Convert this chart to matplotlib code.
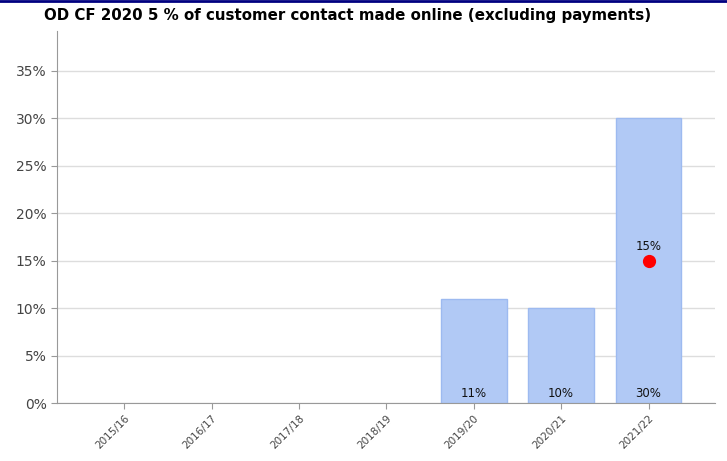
import matplotlib
matplotlib.use("Agg")
from matplotlib import pyplot as plt
from matplotlib.lines import Line2D

# dati
anni = ['2015/16', '2016/17', '2017/18', '2018/19', '2019/20', '2020/21', '2021/22']
valori = [None, None, None, None, 11, 10, 30]
target = [None, None, None, None, None, None, 15]

fig = plt.figure(figsize=(7.27, 4.61), dpi=100)
ax = fig.add_axes([0.0784, 0.1258, 0.905, 0.807])

x = list(range(len(anni)))
for i, v in enumerate(valori):
    if v is None:
        continue
    ax.bar(i, v, width=0.75, color='#b1c9f5', edgecolor='#9dbaf0', linewidth=1, zorder=2)
    ax.text(i, 0.3, '{}%'.format(v), ha='center', va='bottom', fontsize=8.5, color='#111111', zorder=4)

for i, t in enumerate(target):
    if t is None:
        continue
    ax.plot(i, t, 'o', color='#ff0000', markersize=8.5, zorder=5)
    ax.text(i, t + 0.8, '{}%'.format(t), ha='center', va='bottom', fontsize=8.5, color='#111111', zorder=4)

ax.set_xlim(-0.77, 6.76)
ax.set_ylim(0, 39.2)
ax.set_yticks([0, 5, 10, 15, 20, 25, 30, 35])
ax.set_yticklabels(['{}%'.format(t) for t in [0, 5, 10, 15, 20, 25, 30, 35]], fontsize=10, color='#444444')
ax.set_xticks(x)
ax.set_xticklabels(anni, rotation=45, ha='right', rotation_mode='anchor', fontsize=7.5, color='#444444')

ax.grid(axis='y', color='#dddddd', linewidth=1, zorder=0)
ax.set_axisbelow(True)
ax.spines['top'].set_visible(False)
ax.spines['right'].set_visible(False)
ax.spines['left'].set_color('#999999')
ax.spines['bottom'].set_color('#999999')
ax.tick_params(axis='both', color='#999999', length=4)

fig.text(0.478, 0.967, 'OD CF 2020 5 % of customer contact made online (excluding payments)',
         ha='center', va='center', fontsize=10.8, fontweight='bold', color='#000000')

# bordo blu in alto
fig.add_artist(Line2D([0, 1], [0.998, 0.998], transform=fig.transFigure, color='#000080', linewidth=2))

fig.savefig('out.png', dpi=100)
